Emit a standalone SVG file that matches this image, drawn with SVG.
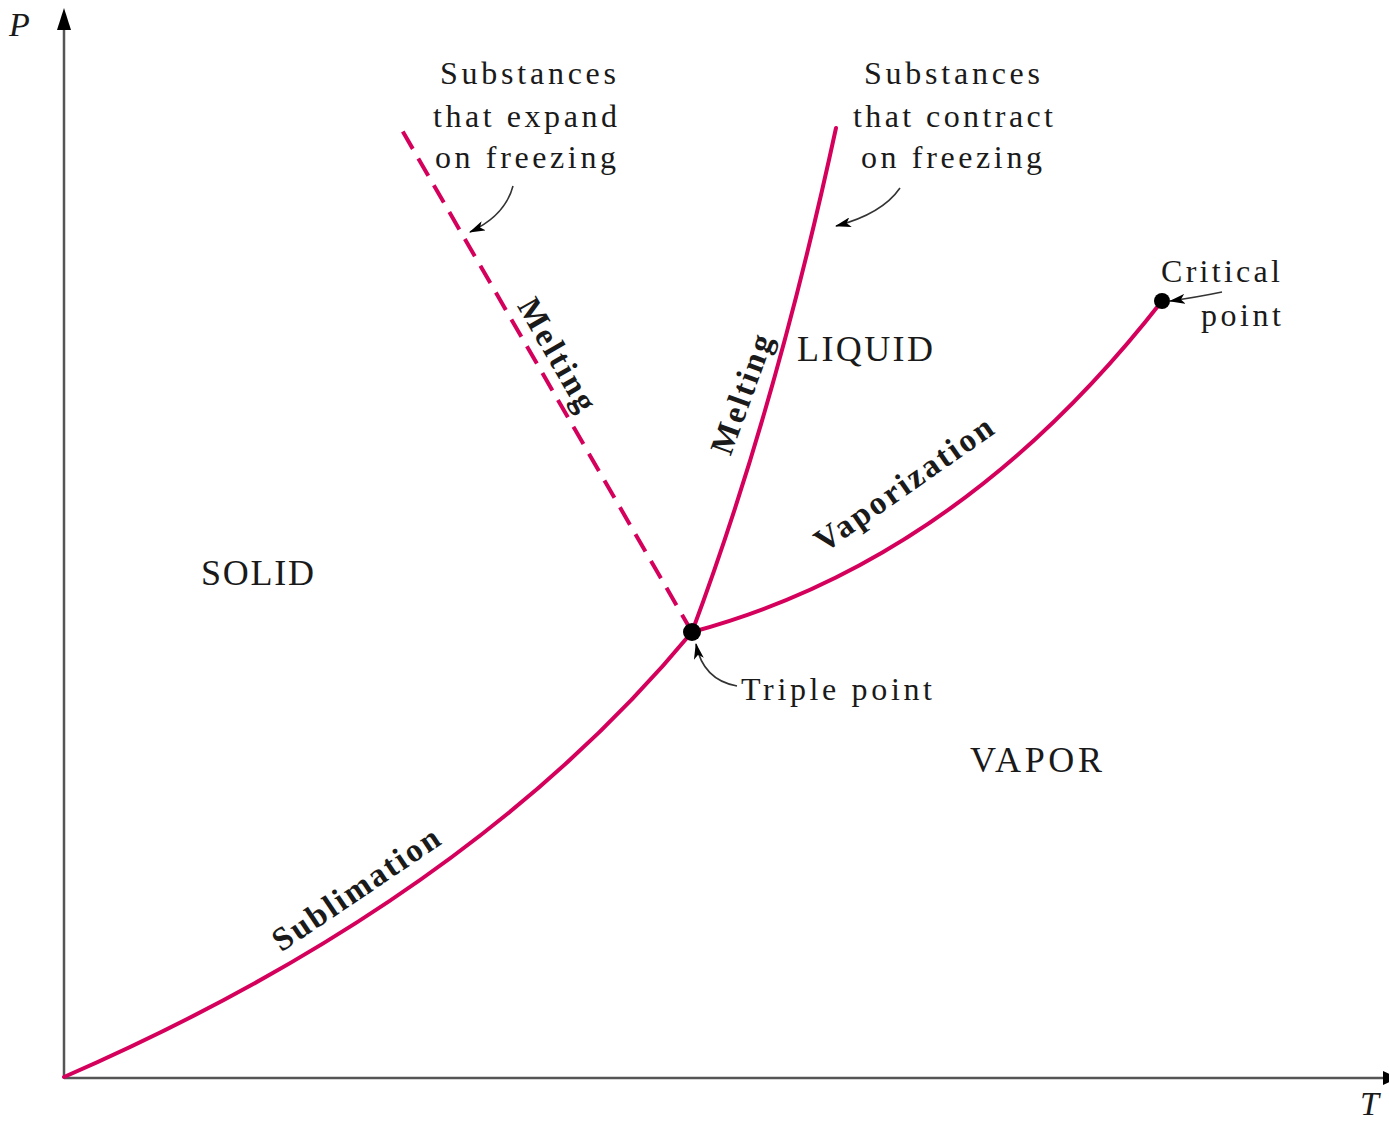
<svg xmlns="http://www.w3.org/2000/svg" width="1389" height="1121" viewBox="0 0 1389 1121">
<style>
.axis{stroke:#555;stroke-width:2.5;fill:none}
.curve{stroke:#d4005c;stroke-width:4;fill:none;stroke-linecap:round}
.dash{stroke:#d4005c;stroke-width:4;fill:none;stroke-dasharray:20 11}
.ann{stroke:#333;stroke-width:1.6;fill:none}
.t{font-family:"Liberation Serif","Times New Roman",serif;fill:#1a1a1a}
.lab{font-size:32px;letter-spacing:1px}
.reg{font-size:36px}
.rot{font-size:33px;font-weight:bold}
.ax{font-size:34px;font-style:italic}
</style>
<defs>
<marker id="ah" viewBox="0 0 16 10" refX="15" refY="5" markerWidth="16" markerHeight="10" markerUnits="userSpaceOnUse" orient="auto">
<path d="M0,0 L16,5 L0,10 L4,5 Z" fill="#000"/>
</marker>
</defs>
<g id="axes">
<line class="axis" x1="64" y1="1078" x2="64" y2="26"/>
<path d="M57,30 L64,8 L71,30 Z" fill="#000"/>
<line class="axis" x1="64" y1="1078" x2="1384" y2="1078"/>
<path d="M1383,1071 L1398,1078 L1383,1085 Z" fill="#000"/>
<text class="t ax" x="9" y="36">P</text>
<text class="t ax" x="1360" y="1115">T</text>
</g>
<g id="connectors">
<path id="sublimation-curve" class="curve" d="M64,1077 Q 470,900 692,632"/>
<path id="vaporization-curve" class="curve" d="M692,632 Q 960,560 1162,301"/>
<path id="melting-contract" class="curve" d="M692,632 Q 775,410 836,128"/>
<path id="melting-expand" class="dash" d="M692,632 L399,125"/>
<path class="ann" d="M513,186 Q 505,216 470,232" marker-end="url(#ah)"/>
<path class="ann" d="M900,188 Q 882,214 836,226" marker-end="url(#ah)"/>
<path class="ann" d="M737,686 Q 703,680 696,644" marker-end="url(#ah)"/>
<path class="ann" d="M1222,292 Q 1198,297 1170,301" marker-end="url(#ah)"/>
</g>
<g id="triple-point">
<circle cx="692" cy="632" r="9" fill="#000"/>
<text class="t lab" x="741" y="700" textLength="192" lengthAdjust="spacing">Triple point</text>
</g>
<g id="critical-point">
<circle cx="1162" cy="301" r="8" fill="#000"/>
<text class="t lab" x="1161" y="282" textLength="120" lengthAdjust="spacing">Critical</text>
<text class="t lab" x="1201" y="326" textLength="81" lengthAdjust="spacing">point</text>
</g>
<g id="expand-label">
<text class="t lab" x="440" y="84" textLength="177" lengthAdjust="spacing">Substances</text>
<text class="t lab" x="433" y="127" textLength="185" lengthAdjust="spacing">that expand</text>
<text class="t lab" x="435" y="168" textLength="182" lengthAdjust="spacing">on freezing</text>
</g>
<g id="contract-label">
<text class="t lab" x="864" y="84" textLength="177" lengthAdjust="spacing">Substances</text>
<text class="t lab" x="853" y="127" textLength="201" lengthAdjust="spacing">that contract</text>
<text class="t lab" x="861" y="168" textLength="182" lengthAdjust="spacing">on freezing</text>
</g>
<g id="solid">
<text class="t reg" x="201" y="585" textLength="113" lengthAdjust="spacing">SOLID</text>
</g>
<g id="liquid">
<text class="t reg" x="797" y="361" textLength="136" lengthAdjust="spacing">LIQUID</text>
</g>
<g id="vapor">
<text class="t reg" x="970" y="772" textLength="132" lengthAdjust="spacing">VAPOR</text>
</g>
<g id="labels-rotated">
<text class="t rot" text-anchor="middle" transform="translate(548,360) rotate(60)" textLength="125" lengthAdjust="spacing">Melting</text>
<text class="t rot" text-anchor="middle" transform="translate(752,398) rotate(-70)" textLength="125" lengthAdjust="spacing">Melting</text>
<text class="t rot" text-anchor="middle" transform="translate(910,493) rotate(-35)" textLength="210" lengthAdjust="spacing">Vaporization</text>
<text class="t rot" text-anchor="middle" transform="translate(362,898) rotate(-34)" textLength="195" lengthAdjust="spacing">Sublimation</text>
</g>
</svg>
